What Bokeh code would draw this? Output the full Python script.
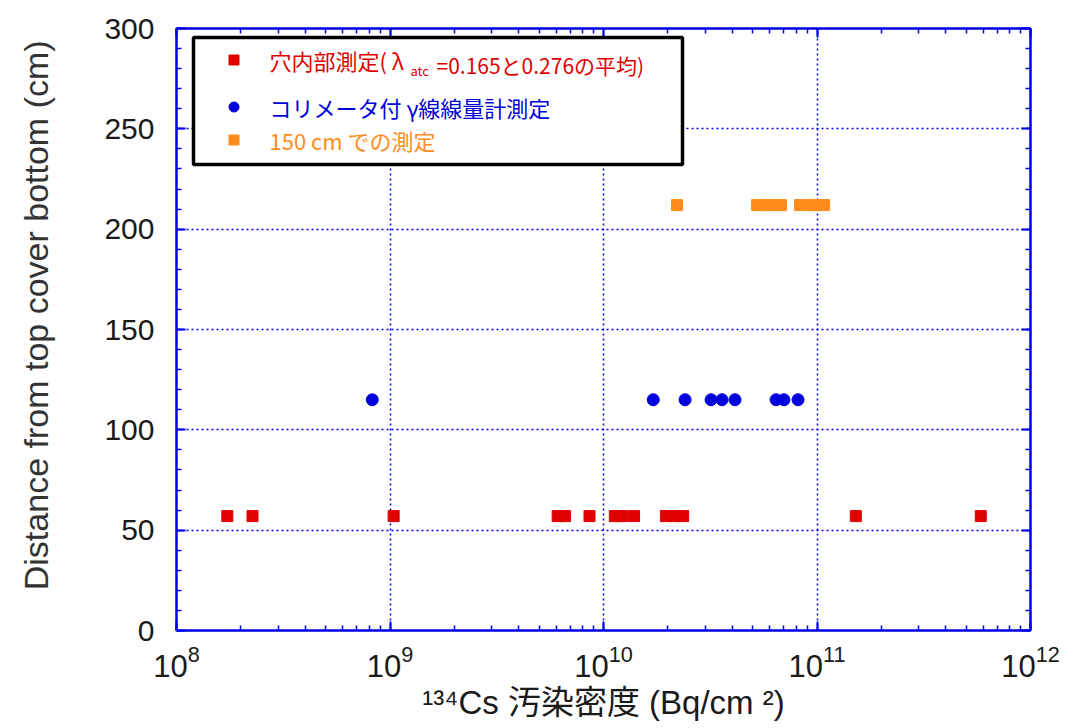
from bokeh.plotting import figure
from bokeh.models import (LogAxis, LinearAxis, Range1d, Label, BoxAnnotation, Legend, LegendItem,
                          LogTicker, SingleIntervalTicker, CustomJSTickFormatter)
from bokeh.core.properties import value
from bokeh.embed import file_html
from bokeh.resources import INLINE

# ---- data ----
red_x = [1.73e8, 2.27e8, 1.04e9, 6.1e9, 6.6e9, 8.6e9, 1.13e10, 1.22e10, 1.39e10,
         1.96e10, 2.14e10, 2.36e10, 1.52e11, 5.85e11]
red_y = [57, 57, 57, 57, 57, 57, 57, 57, 57, 57, 57, 57, 57, 57]

blue_x = [8.26e8, 1.71e10, 2.41e10, 3.19e10, 3.59e10, 4.13e10, 6.43e10, 7.0e10, 8.15e10]
blue_y = [115, 115, 115, 115, 115, 115, 115, 115, 115]

orange_x = [2.21e10, 5.24e10, 5.58e10, 5.96e10, 6.35e10, 6.78e10, 8.32e10, 9.47e10, 1.01e11, 1.08e11]
orange_y = [212, 212, 212, 212, 212, 212, 212, 212, 212, 212]

labels = ["穴内部測定( λ", "コリメータ付 γ線線量計測定", "150 cm での測定"]
label1_sub = "atc"
label1_rest = "=0.165と0.276の平均)"
x_label = "¹³⁴Cs 汚染密度 (Bq/cm ²)"
y_label = "\u00a0\u00a0\u00a0Distance from top cover bottom (cm)"

RED = "#e00000"
BLUE = "#0000dd"
ORANGE = "#ff8c1a"
AXC = "#0000ee"

FONT = "Liberation Sans, Arial, Noto Sans CJK JP"
JFONT = "Noto Sans CJK JP"

# frame geometry in picture pixels (for placing annotations)
FL, FR, FT, FB = 176, 1030, 28, 630


def px_x(px):
    return 10 ** (8 + (px - FL) / ((FR - FL) / 4))


def px_y(py):
    return (FB - py) / (FB - FT) * 300


W, H = 1071, 728
p = figure(width=W, height=H, x_axis_type="log",
           x_range=Range1d(1e8, 1e12), y_range=Range1d(0, 300),
           output_backend="svg", toolbar_location=None,
           min_border_left=FL, min_border_right=W - FR, min_border_top=FT, min_border_bottom=H - FB)
p.outline_line_color = AXC
p.outline_line_width = 2
p.background_fill_color = "white"
p.border_fill_color = "white"


def style_axis(ax):
    ax.axis_line_color = AXC
    ax.axis_line_width = 2
    ax.major_tick_line_color = AXC
    ax.minor_tick_line_color = AXC
    ax.major_tick_line_width = 2
    ax.minor_tick_line_width = 1.5
    ax.major_tick_in = 9
    ax.major_tick_out = 0
    ax.minor_tick_in = 5
    ax.minor_tick_out = 0
    ax.major_label_text_color = "#1a1a1a"
    ax.major_label_text_font = FONT
    ax.axis_label_text_font_style = "normal"


xa = p.xaxis[0]
xa.ticker = LogTicker(num_minor_ticks=10)
style_axis(xa)
xa.major_label_text_font_size = "31px"
xa.major_label_standoff = 14
xa.axis_label = x_label
xa.axis_label_text_font = FONT
xa.axis_label_text_font_size = "33px"
xa.axis_label_text_color = "#1a1a1a"
xa.axis_label_standoff = 4

ya = p.yaxis[0]
ya.ticker = SingleIntervalTicker(interval=50, num_minor_ticks=5)
style_axis(ya)
ya.major_label_text_font_size = "30px"
ya.major_label_standoff = 22
ya.axis_label = y_label
ya.axis_label_text_font = FONT
ya.axis_label_text_font_size = "34px"
ya.axis_label_text_color = "#333333"
ya.axis_label_standoff = 46

blank = CustomJSTickFormatter(code="return ''")
top_ax = LogAxis(ticker=LogTicker(num_minor_ticks=10), formatter=blank)
style_axis(top_ax)
p.add_layout(top_ax, "above")
right_ax = LinearAxis(ticker=SingleIntervalTicker(interval=50, num_minor_ticks=5), formatter=blank)
style_axis(right_ax)
p.add_layout(right_ax, "right")

for g in (p.xgrid[0], p.ygrid[0]):
    g.grid_line_color = AXC
    g.grid_line_width = 1.5
    g.grid_line_dash = "2 3"
p.ygrid[0].ticker = ya.ticker

r_red = p.scatter(red_x, red_y, marker="square", size=11, color=RED)
r_blue = p.scatter(blue_x, blue_y, marker="circle", size=12, color=BLUE)
r_orange = p.scatter(orange_x, orange_y, marker="square", size=11, color=ORANGE)

# legend box
box = BoxAnnotation(left=px_x(193), right=px_x(682), top=px_y(37), bottom=px_y(164),
                    fill_color="white", fill_alpha=1.0, line_color="black", line_alpha=1.0,
                    line_width=3.5, level="annotation")
p.add_layout(box)

GH = 25
rows = [(r_red, labels[0], RED, 63), (r_blue, labels[1], BLUE, 110), (r_orange, labels[2], ORANGE, 143)]
for r, lab, col, cy in rows:
    vy = (FB - FT) - (cy - FT) - GH / 2
    vx = 233 - GH / 2 - FL
    lg = Legend(items=[LegendItem(label=value(lab), renderers=[r])], location=(vx, vy),
                border_line_color=None, background_fill_alpha=0, padding=0, margin=0,
                glyph_width=GH, glyph_height=GH, label_height=GH, label_standoff=24,
                label_text_color=col, label_text_font=JFONT, label_text_font_size="22px")
    p.add_layout(lg, "center")

p.add_layout(Label(x=px_x(410), y=px_y(70), text=label1_sub, text_color=RED,
                   text_font=JFONT, text_font_size="13px", text_baseline="middle"))
p.add_layout(Label(x=px_x(436), y=px_y(64), text=label1_rest, text_color=RED,
                   text_font=JFONT, text_font_size="21px", text_baseline="middle"))

open("out.html", "w").write(file_html(p, INLINE))
